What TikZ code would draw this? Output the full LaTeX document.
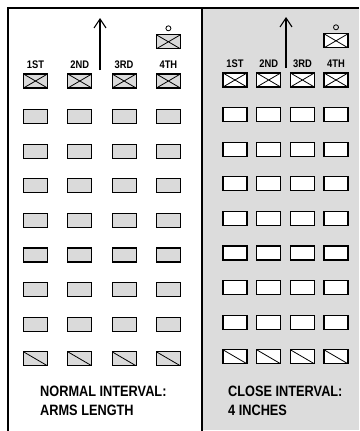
\documentclass[tikz,border=0pt]{standalone}
\usepackage{fontspec}
\newfontfamily\capfont[FakeStretch=0.85]{Liberation Sans}
\usetikzlibrary{arrows.meta, positioning}
\definecolor{panelgray}{RGB}{220,220,220}
\definecolor{boxgray}{RGB}{218,218,218}

\tikzset{
  man/.style={draw, line width=1.2pt, minimum width=24pt, minimum height=14pt, inner sep=0pt},
  crossman/.style={man, path picture={\draw[line width=0.8pt]
      (path picture bounding box.north west) -- (path picture bounding box.south east)
      (path picture bounding box.south west) -- (path picture bounding box.north east);}},
  lastman/.style={man, path picture={\draw[line width=0.8pt]
      (path picture bounding box.north west) -- (path picture bounding box.south east);}},
  rank/.style={font=\capfont\bfseries\fontsize{11}{13}\selectfont, inner sep=0pt},
  caption/.style={font=\capfont\bfseries\fontsize{15}{18}\selectfont, inner sep=0pt, anchor=base west},
  guide/.style={circle, draw, line width=0.8pt, minimum size=5pt, inner sep=0pt}
}

\begin{document}
\begin{tikzpicture}[x=1pt, y=-1pt]
  \useasboundingbox (0,0) rectangle (359,431);

  % Frame and panels
  \fill[panelgray] (203,8) rectangle (359,430);
  \draw[line width=2pt] (8,431) -- (8,8) -- (359,8);
  \draw[line width=1.4pt] (202,8) -- (202,431);

  % Normal interval
  \foreach \c [count=\i] in {35.5,79.8,124.1,168.4} {
    \node[crossman, fill=boxgray] (lh\i) at (\c,81) {};
    \foreach \r in {1,...,7}
      \node[man, fill=boxgray] (l\i\r) at (\c,{82+34.6*\r}) {};
    \node[lastman, fill=boxgray] (l\i8) at (\c,{82+34.6*8}) {};
  }
  \node[rank, above=5pt of lh1] (l1st) {1ST};
  \node[rank, above=5pt of lh2] (l2nd) {2ND};
  \node[rank, above=5pt of lh3] (l3rd) {3RD};
  \node[rank, above=5pt of lh4] (l4th) {4TH};
  \node[crossman, fill=boxgray, above=24pt of lh4] (lguide) {};
  \node[guide, above=3pt of lguide] (lpost) {};

  \coordinate (lfoot) at (100,70);
  \coordinate (lhead) at (100,18);
  \draw[line width=1.1pt, -{Straight Barb[length=9pt, width=12pt]}] (lfoot) -- (lhead);

  \node[caption] (normal) at (40,396) {NORMAL INTERVAL:};
  \node[caption] (arms) at (40,415) {ARMS LENGTH};

  % Close interval
  \foreach \c [count=\i] in {235,268.7,302.4,336} {
    \node[crossman, fill=white] (rh\i) at (\c,80) {};
    \foreach \r in {1,...,7}
      \node[man, fill=white] (r\i\r) at (\c,{80+34.6*\r}) {};
    \node[lastman, fill=white] (r\i8) at (\c,{80+34.6*8}) {};
  }
  \node[rank, above=5pt of rh1] (r1st) {1ST};
  \node[rank, above=5pt of rh2] (r2nd) {2ND};
  \node[rank, above=5pt of rh3] (r3rd) {3RD};
  \node[rank, above=5pt of rh4] (r4th) {4TH};
  \node[crossman, fill=white, above=24pt of rh4] (rguide) {};
  \node[guide, above=3pt of rguide] (rpost) {};

  \coordinate (rfoot) at (286,68);
  \coordinate (rhead) at (286,17);
  \draw[line width=1.1pt, -{Straight Barb[length=9pt, width=12pt]}] (rfoot) -- (rhead);

  \node[caption] (close) at (228,396) {CLOSE INTERVAL:};
  \node[caption] (inches) at (228,415) {4 INCHES};
\end{tikzpicture}
\end{document}
